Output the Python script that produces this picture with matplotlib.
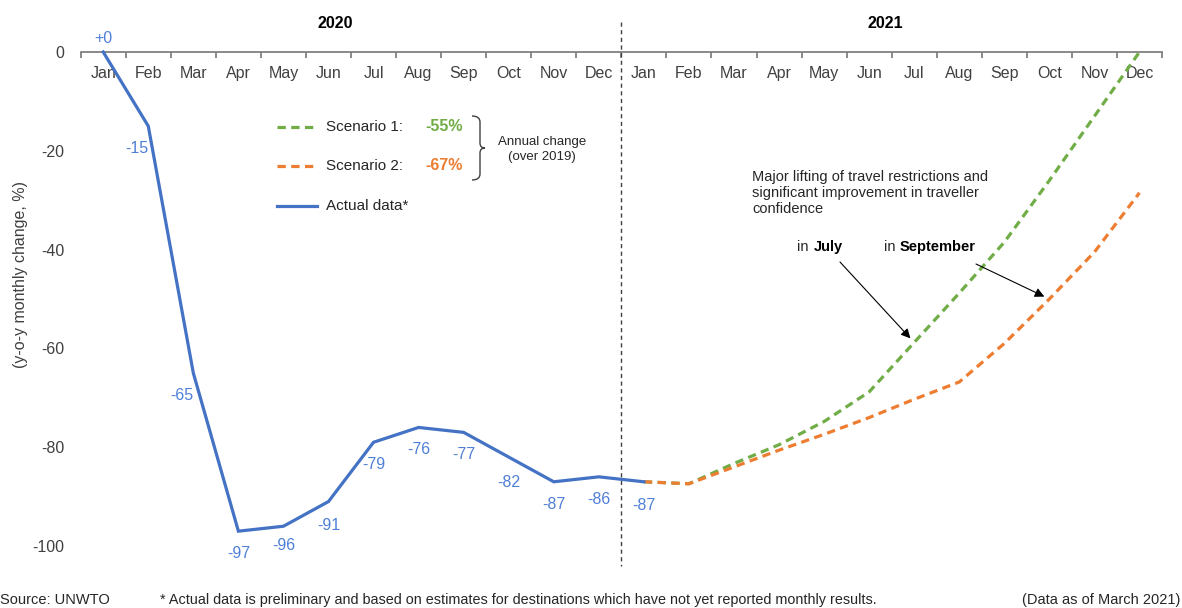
import matplotlib
matplotlib.use("Agg")
import matplotlib.pyplot as plt
from matplotlib.path import Path
from matplotlib.patches import PathPatch

plt.rcParams['font.family'] = ['Liberation Sans', 'DejaVu Sans']
plt.rcParams['axes.unicode_minus'] = False

# data
months = ["Jan", "Feb", "Mar", "Apr", "May", "Jun",
          "Jul", "Aug", "Sep", "Oct", "Nov", "Dec"]
years = ["2020", "2021"]
actual = [0, -15, -65, -97, -96, -91, -79, -76, -77, -82, -87, -86, -87]
actual_labels = ["+0", "-15", "-65", "-97", "-96", "-91", "-79", "-76",
                 "-77", "-82", "-87", "-86", "-87"]
scenario1 = [-87, -87.4, -83.3, -79.5, -74.8, -68.8, -58.8, -48.8, -38.5, -26, -13, 0]
scenario2 = [-87, -87.4, -84, -80.6, -77.4, -74, -70.3, -66.8, -59, -50, -40.5, -28.5]
scen_names = ["Scenario 1:", "Scenario 2:"]
scen_annual = ["-55%", "-67%"]

BLUE = "#4472C4"
LBLUE = "#4F7FD6"
GREEN = "#70AD47"
ORANGE = "#ED7D31"
GREY = "#404040"
TXT = "#262626"

W, H = 1182, 608
fig = plt.figure(figsize=(W / 100, H / 100), dpi=100)


def fx(x):
    return x / W


def fy(y):
    return 1 - y / H


ax_l, ax_r = fx(80.7), fx(1162)
ax = fig.add_axes([ax_l, fy(546), ax_r - ax_l, fy(52) - fy(546)])

xa = list(range(len(actual)))
xs = list(range(12, 12 + len(scenario1)))
dash = (0, (2.6, 1.7))
ax.plot(xs, scenario1, color=GREEN, lw=2.3, ls=dash, clip_on=False, zorder=3)
ax.plot(xs, scenario2, color=ORANGE, lw=2.3, ls=dash, clip_on=False, zorder=4)
ax.plot(xa, actual, color=BLUE, lw=2.3, clip_on=False, zorder=5,
        solid_joinstyle='miter')

# data labels (offsets in points)
offs = [(0, 10), (-8, -16), (-8, -16), (0, -16), (0, -14), (0, -17), (0, -16),
        (0, -16), (0, -16), (0, -18), (0, -16), (0, -16), (0, -17)]
for i, (v, t) in enumerate(zip(actual, actual_labels)):
    ax.annotate(t, (i, v), xytext=offs[i], textcoords='offset points',
                ha='center', va='center', color=LBLUE, fontsize=11.5)

ax.set_xlim(-0.5, 23.5)
ax.set_ylim(-100, 0)
ax.spines['bottom'].set_position(('data', 0))
ax.spines['bottom'].set_color('#808080')
ax.spines['bottom'].set_linewidth(1.3)
for s in ['top', 'right', 'left']:
    ax.spines[s].set_visible(False)
ax.set_xticks(range(24))
ax.set_xticklabels(months * 2)
ax.set_xticks([i - 0.5 for i in range(25)], minor=True)
ax.tick_params(axis='x', which='major', length=0, pad=10, labelsize=11.5,
               labelcolor=GREY)
ax.tick_params(axis='x', which='minor', length=4, width=1.3, color='#808080',
               direction='out')
ax.set_yticks([0, -20, -40, -60, -80, -100])
ax.tick_params(axis='y', length=0, pad=12, labelsize=11.5, labelcolor=GREY)
ax.set_ylabel("(y-o-y monthly change, %)", fontsize=11.5, color=GREY)
ax.yaxis.set_label_coords((fx(28) - ax_l) / (ax_r - ax_l), 0.549)

# year divider
ax.plot([11.5, 11.5], [6, -104], color='#404040', lw=1, ls=(0, (3, 2.5)),
        clip_on=False, zorder=2)
fig.text(fx(335), fy(24), years[0], ha='center', va='center',
         fontsize=11.5, fontweight='bold')
fig.text(fx(885), fy(24), years[1], ha='center', va='center',
         fontsize=11.5, fontweight='bold')

# legend
for yy, col, name, ann in [(127, GREEN, scen_names[0], scen_annual[0]),
                           (166, ORANGE, scen_names[1], scen_annual[1])]:
    fig.add_artist(plt.Line2D([fx(277), fx(317)], [fy(yy), fy(yy)], color=col,
                              lw=2.3, ls=dash))
    fig.text(fx(326), fy(yy), name, ha='left', va='center', fontsize=11,
             color=TXT)
    fig.text(fx(425), fy(yy), ann, ha='left', va='center', fontsize=11.5,
             color=col, fontweight='bold')
fig.add_artist(plt.Line2D([fx(277), fx(317)], [fy(206), fy(206)], color=BLUE,
                          lw=2.3))
fig.text(fx(326), fy(206), "Actual data*", ha='left', va='center', fontsize=11,
         color=TXT)

# brace
bx, top, bot, mid = 472, 116, 180, 148
verts = [(bx, top), (bx + 8, top), (bx + 8, top + 6),
         (bx + 8, mid - 5), (bx + 8, mid), (bx + 13, mid),
         (bx + 8, mid), (bx + 8, mid + 5),
         (bx + 8, bot - 6), (bx + 8, bot), (bx, bot)]
codes = [Path.MOVETO, Path.CURVE3, Path.CURVE3,
         Path.LINETO, Path.CURVE3, Path.CURVE3,
         Path.CURVE3, Path.CURVE3,
         Path.LINETO, Path.CURVE3, Path.CURVE3]
verts = [(fx(a), fy(b)) for a, b in verts]
fig.add_artist(PathPatch(Path(verts, codes), fill=False, lw=1, ec='#404040',
                         transform=fig.transFigure))
fig.text(fx(542), fy(149.5), "Annual change\n(over 2019)", ha='center',
         va='center', fontsize=9.5, color=TXT, linespacing=1.35)

# annotation
fig.text(fx(752), fy(170), "Major lifting of travel restrictions and\n"
         "significant improvement in traveller\nconfidence", ha='left',
         va='top', fontsize=10.5, color=TXT, linespacing=1.2)
fig.text(fx(797), fy(247), "in", ha='left', va='center', fontsize=10.5, color=TXT)
fig.text(fx(814), fy(247), "July", ha='left', va='center', fontsize=10.5,
         fontweight='bold')
fig.text(fx(884), fy(247), "in", ha='left', va='center', fontsize=10.5, color=TXT)
fig.text(fx(900), fy(247), "September", ha='left', va='center', fontsize=10.5,
         fontweight='bold')

ap = dict(arrowstyle='-|>', color='black', lw=0.8, mutation_scale=14,
          shrinkA=0, shrinkB=4)
ax.annotate("", xy=(18, scenario1[6]), xytext=(fx(840), fy(262)),
            textcoords='figure fraction', arrowprops=ap)
ax.annotate("", xy=(21, scenario2[9]), xytext=(fx(976), fy(264)),
            textcoords='figure fraction', arrowprops=ap)

# footer
fig.text(fx(0), fy(600), "Source: UNWTO", ha='left', va='center', fontsize=10.5,
         color=TXT)
fig.text(fx(160), fy(600), "* Actual data is preliminary and based on estimates "
         "for destinations which have not yet reported monthly results.",
         ha='left', va='center', fontsize=10.4, color=TXT)
fig.text(fx(1180), fy(600), "(Data as of March 2021)", ha='right', va='center',
         fontsize=10.5, color=TXT)

fig.savefig("out.png", dpi=100)
